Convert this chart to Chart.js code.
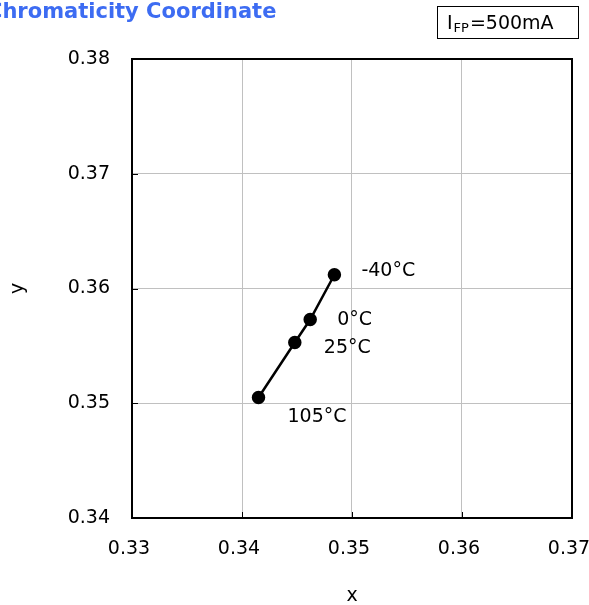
<!DOCTYPE html>
<html>
<head>
<meta charset="utf-8">
<script src="https://cdn.jsdelivr.net/npm/chart.js@4"></script>
<style>
  html, body { margin: 0; padding: 0; background: #fff; }
  #wrap { width: 589px; height: 605px; position: relative; }
</style>
</head>
<body>
<div id="wrap"><canvas id="chromaChart"></canvas></div>
<script>
// data
const cieX = [0.3484, 0.3462, 0.3448, 0.3415]
const cieY = [0.3612, 0.3573, 0.3553, 0.3505]
const tempLabels = ['-40°C', '0°C', '25°C', '105°C']
const xTicks = [0.33, 0.34, 0.35, 0.36, 0.37]
const yTicks = [0.34, 0.35, 0.36, 0.37, 0.38]

// label offsets from their point, in px
const labelOffsets = [[27, -4], [27, 1], [29, 6], [29, 20]]

const fontFam = '"DejaVu Sans", Verdana, sans-serif'
const gridGray = '#c0c0c0'

// frame, inner tick marks, point labels, title and condition box
const decorPlugin = {
    id: 'decor',
    afterDraw(chart) {
        const ctx = chart.ctx
        const a = chart.chartArea
        const xs = chart.scales.x
        const ys = chart.scales.y
        ctx.save()

        // inner tick marks
        ctx.strokeStyle = '#000'
        ctx.lineWidth = 1
        xTicks.forEach(v => {
            const px = Math.round(xs.getPixelForValue(v)) + 0.5
            ctx.beginPath(); ctx.moveTo(px, a.bottom); ctx.lineTo(px, a.bottom - 6); ctx.stroke()
        })
        yTicks.forEach(v => {
            const py = Math.round(ys.getPixelForValue(v)) + 0.5
            ctx.beginPath(); ctx.moveTo(a.left, py); ctx.lineTo(a.left + 6, py); ctx.stroke()
        })

        // frame
        ctx.lineWidth = 2
        ctx.strokeRect(a.left, a.top, a.right - a.left, a.bottom - a.top)

        // temperature labels
        ctx.fillStyle = '#000'
        ctx.font = '19px ' + fontFam
        ctx.textAlign = 'left'
        ctx.textBaseline = 'middle'
        for (let i = 0; i < tempLabels.length; i++) {
            const px = xs.getPixelForValue(cieX[i])
            const py = ys.getPixelForValue(cieY[i])
            ctx.fillText(tempLabels[i], px + labelOffsets[i][0], py + labelOffsets[i][1])
        }

        // title (cut at the left edge like the original)
        ctx.fillStyle = '#3d6cf2'
        ctx.font = 'bold 21px ' + fontFam
        ctx.textBaseline = 'alphabetic'
        ctx.fillText('Chromaticity Coordinate', -13, 18)

        // condition box
        ctx.fillStyle = '#fff'
        ctx.fillRect(437, 6, 141, 32)
        ctx.strokeStyle = '#000'
        ctx.lineWidth = 1
        ctx.strokeRect(437.5, 6.5, 141, 32)
        ctx.fillStyle = '#000'
        ctx.font = '19px ' + fontFam
        ctx.fillText('I', 447, 29)
        let w = ctx.measureText('I').width
        ctx.font = '13px ' + fontFam
        ctx.fillText('FP', 447 + w + 1, 32)
        let w2 = ctx.measureText('FP').width
        ctx.font = '19px ' + fontFam
        ctx.fillText('=500mA', 447 + w + 2 + w2, 29)

        ctx.restore()
    }
}

const chartCanvas = document.getElementById('chromaChart').getContext('2d')

let chromaChart = new Chart(chartCanvas, {
    type: 'scatter',
    data: {
        datasets: [{
            data: cieX.map((v, i) => ({ x: v, y: cieY[i] })),
            showLine: true,
            borderColor: '#000',
            borderWidth: 2.5,
            backgroundColor: '#000',
            pointRadius: 5.5,
            pointHoverRadius: 5.5
        }]
    },
    options: {
        responsive: true,
        maintainAspectRatio: false,
        animation: false,
        events: [],
        layout: {
            padding: { top: 59, right: 17, left: 0, bottom: 0 }
        },
        plugins: {
            legend: { display: false },
            tooltip: { enabled: false }
        },
        scales: {
            x: {
                type: 'linear',
                min: 0.33,
                max: 0.37,
                afterBuildTicks: s => { s.ticks = xTicks.map(v => ({ value: v })) },
                afterFit: s => { s.height = 87; s.paddingLeft = 0; s.paddingRight = 0 },
                grid: { color: gridGray, lineWidth: 1, drawTicks: false },
                border: { display: false },
                ticks: {
                    color: '#000',
                    padding: 20,
                    maxRotation: 0,
                    labelOffset: -3,
                    font: { family: fontFam, size: 19 },
                    callback: v => v.toFixed(2)
                },
                title: {
                    display: true,
                    text: 'x',
                    color: '#000',
                    font: { family: fontFam, size: 19 },
                    padding: { top: 0, bottom: -2 }
                }
            },
            y: {
                type: 'linear',
                min: 0.34,
                max: 0.38,
                afterBuildTicks: s => { s.ticks = yTicks.map(v => ({ value: v })) },
                afterFit: s => { s.width = 132; s.paddingTop = 0; s.paddingBottom = 0 },
                grid: { color: gridGray, lineWidth: 1, drawTicks: false },
                border: { display: false },
                ticks: {
                    color: '#000',
                    padding: 22,
                    font: { family: fontFam, size: 19 },
                    callback: v => v.toFixed(2)
                },
                title: {
                    display: true,
                    text: 'y',
                    color: '#000',
                    font: { family: fontFam, size: 19 },
                    padding: { top: 7, bottom: 0 }
                }
            }
        }
    },
    plugins: [decorPlugin]
})
</script>
</body>
</html>
